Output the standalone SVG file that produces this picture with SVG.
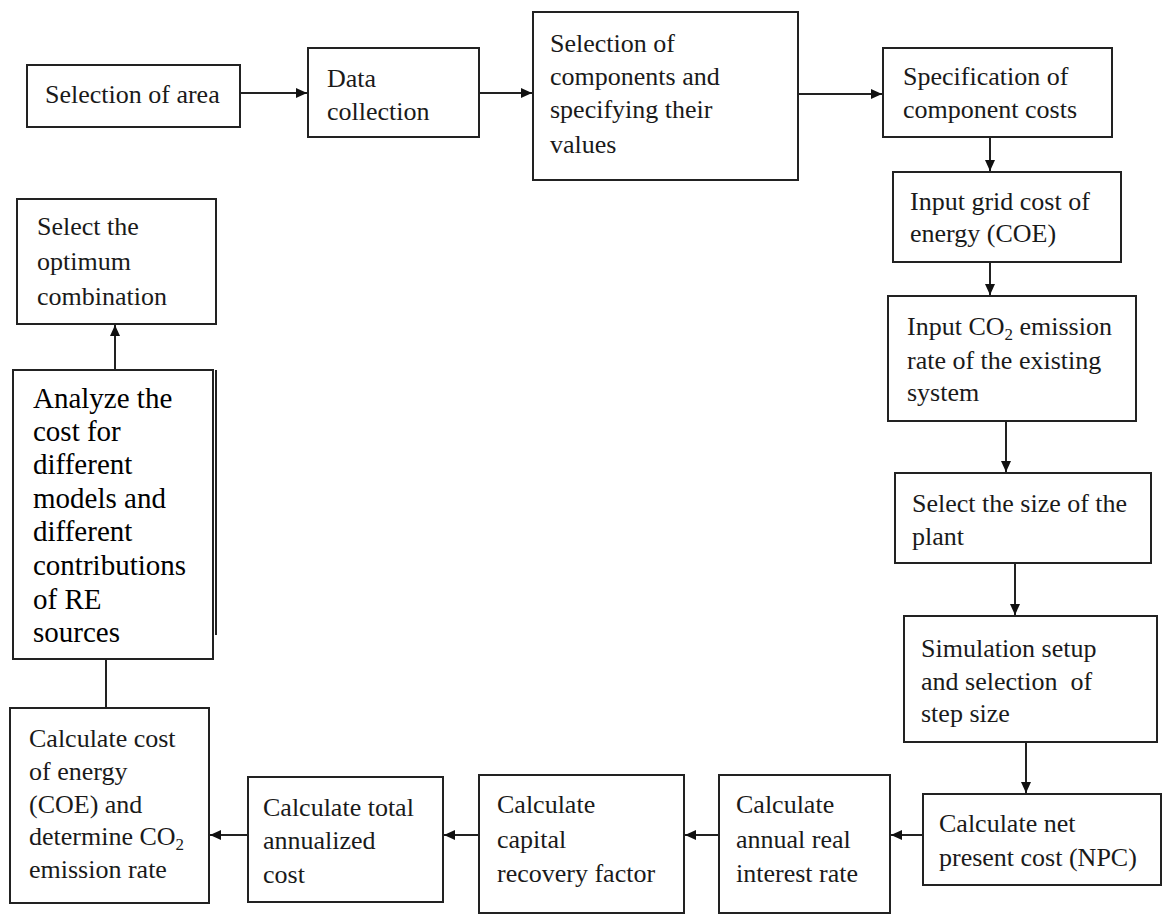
<svg xmlns="http://www.w3.org/2000/svg" width="1168" height="921" viewBox="0 0 1168 921">
<style>
.box{fill:#fff;stroke:#222;stroke-width:2}
.t{font-family:"Liberation Serif","Times New Roman",serif;font-size:26px;fill:#1a1a1a}
.tb{font-family:"Liberation Serif","Times New Roman",serif;font-size:29px;fill:#000}
.c{stroke:#222;stroke-width:2;fill:none}
.sub{font-size:17px}
</style>
<defs>
<marker id="ah" markerUnits="userSpaceOnUse" markerWidth="12" markerHeight="10" refX="11" refY="5" orient="auto">
<path d="M0,0 L11,5 L0,10 z" fill="#111"/>
</marker>
</defs>
<rect width="1168" height="921" fill="#fff"/>
<g id="connectors">
<line class="c" x1="240" y1="93" x2="307" y2="93" marker-end="url(#ah)"/>
<line class="c" x1="479" y1="93" x2="532" y2="93" marker-end="url(#ah)"/>
<line class="c" x1="798" y1="94" x2="882" y2="94" marker-end="url(#ah)"/>
<line class="c" x1="990" y1="137" x2="990" y2="171" marker-end="url(#ah)"/>
<line class="c" x1="990" y1="262" x2="990" y2="295" marker-end="url(#ah)"/>
<line class="c" x1="1006" y1="421" x2="1006" y2="472" marker-end="url(#ah)"/>
<line class="c" x1="1015" y1="563" x2="1015" y2="615" marker-end="url(#ah)"/>
<line class="c" x1="1026" y1="742" x2="1026" y2="793" marker-end="url(#ah)"/>
<line class="c" x1="923" y1="835" x2="891" y2="835" marker-end="url(#ah)"/>
<line class="c" x1="719" y1="835" x2="685" y2="835" marker-end="url(#ah)"/>
<line class="c" x1="479" y1="835" x2="444" y2="835" marker-end="url(#ah)"/>
<line class="c" x1="248" y1="835" x2="210" y2="835" marker-end="url(#ah)"/>
<line class="c" x1="106" y1="659" x2="106" y2="708"/>
<line class="c" x1="115" y1="370" x2="115" y2="325" marker-end="url(#ah)"/>
</g>
<g id="n1"><rect class="box" x="27" y="65" width="213" height="62"/>
<text class="t" x="45" y="103">Selection of area</text></g>
<g id="n2"><rect class="box" x="308" y="48" width="171" height="89"/>
<text class="t" x="327" y="87">Data</text><text class="t" x="327" y="120">collection</text></g>
<g id="n3"><rect class="box" x="533" y="12" width="265" height="168"/>
<text class="t" x="550" y="52">Selection of</text><text class="t" x="550" y="85">components and</text><text class="t" x="550" y="118">specifying their</text><text class="t" x="550" y="153">values</text></g>
<g id="n4"><rect class="box" x="883" y="48" width="229" height="89"/>
<text class="t" x="903" y="85">Specification of</text><text class="t" x="903" y="118">component costs</text></g>
<g id="n5"><rect class="box" x="893" y="172" width="228" height="90"/>
<text class="t" x="910" y="210">Input grid cost of</text><text class="t" x="910" y="242">energy (COE)</text></g>
<g id="n6"><rect class="box" x="888" y="296" width="248" height="125"/>
<text class="t" x="907" y="335">Input CO<tspan class="sub" dy="5">2</tspan><tspan dy="-5"> emission</tspan></text><text class="t" x="907" y="369">rate of the existing</text><text class="t" x="907" y="401">system</text></g>
<g id="n7"><rect class="box" x="895" y="473" width="256" height="90"/>
<text class="t" x="912" y="512">Select the size of the</text><text class="t" x="912" y="545">plant</text></g>
<g id="n8"><rect class="box" x="904" y="616" width="253" height="126"/>
<text class="t" x="921" y="657">Simulation setup</text><text class="t" x="921" y="690" xml:space="preserve">and selection  of</text><text class="t" x="921" y="722">step size</text></g>
<g id="n9"><rect class="box" x="923" y="794" width="238" height="91"/>
<text class="t" x="939" y="832">Calculate net</text><text class="t" x="939" y="866">present cost (NPC)</text></g>
<g id="n10"><rect class="box" x="719" y="775" width="171" height="138"/>
<text class="t" x="736" y="813">Calculate</text><text class="t" x="736" y="848">annual real</text><text class="t" x="736" y="882">interest rate</text></g>
<g id="n11"><rect class="box" x="479" y="775" width="205" height="138"/>
<text class="t" x="497" y="813">Calculate</text><text class="t" x="497" y="848">capital</text><text class="t" x="497" y="882">recovery factor</text></g>
<g id="n12"><rect class="box" x="248" y="777" width="195" height="125"/>
<text class="t" x="263" y="816">Calculate total</text><text class="t" x="263" y="849">annualized</text><text class="t" x="263" y="883">cost</text></g>
<g id="n13"><rect class="box" x="10" y="708" width="199" height="195"/>
<text class="t" x="29" y="747">Calculate cost</text><text class="t" x="29" y="780">of energy</text><text class="t" x="29" y="813">(COE) and</text><text class="t" x="29" y="845">determine CO<tspan class="sub" dy="5">2</tspan></text><text class="t" x="29" y="878">emission rate</text></g>
<g id="n14"><rect class="box" x="13" y="370" width="200" height="289"/>
<line class="c" x1="216" y1="370" x2="216" y2="635"/>
<text class="tb" x="33" y="408">Analyze the</text><text class="tb" x="33" y="441">cost for</text><text class="tb" x="33" y="474">different</text><text class="tb" x="33" y="508">models and</text><text class="tb" x="33" y="541">different</text><text class="tb" x="33" y="575">contributions</text><text class="tb" x="33" y="609">of RE</text><text class="tb" x="33" y="642">sources</text></g>
<g id="n15"><rect class="box" x="17" y="199" width="199" height="125"/>
<text class="t" x="37" y="235">Select the</text><text class="t" x="37" y="270">optimum</text><text class="t" x="37" y="305">combination</text></g>
</svg>
